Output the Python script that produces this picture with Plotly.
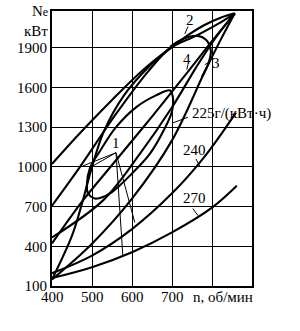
import plotly.graph_objects as go

# axis ticks
x_ticks = [400, 500, 600, 700]
y_ticks = [100, 400, 700, 1000, 1300, 1600, 1900]

# curve "2" (external characteristic)
c2_n = [400, 450, 500, 550, 600, 650, 700, 740, 780, 820, 857]
c2_ne = [1022, 1190, 1350, 1505, 1655, 1790, 1905, 1995, 2070, 2125, 2160]
# second boundary line
cb_n = [400, 470, 560, 640, 695, 760, 815, 857]
cb_ne = [707, 1000, 1400, 1720, 1895, 1990, 2080, 2160]
# propeller curve (steep)
p1_n = [400, 450, 477, 500, 530, 580, 640, 695]
p1_ne = [150, 480, 745, 1000, 1270, 1540, 1750, 1900]
# curve "4"
c4_n = [400, 527, 620, 700, 760, 810, 857]
c4_ne = [467, 745, 1100, 1450, 1750, 1980, 2160]
# partial line from 422
cd_n = [400, 477, 560, 650, 740, 800, 857]
cd_ne = [422, 745, 1050, 1380, 1720, 1950, 2160]
# curve "3"
c3_n = [400, 500, 600, 700, 782, 820, 857]
c3_ne = [150, 420, 760, 1200, 1720, 1950, 2160]
# 225 g/(kWh) island
s225_n = [505, 490, 487, 495, 520, 560, 610, 660, 695, 702, 700, 680, 645, 600, 550, 520, 505]
s225_ne = [762, 800, 857, 992, 1120, 1300, 1450, 1540, 1577, 1530, 1420, 1280, 1100, 950, 810, 765, 762]
# outer loop
big_n = [695, 730, 762, 785, 797, 792, 775]
big_ne = [1907, 1970, 1990, 1960, 1880, 1790, 1680]
# 240 and 270 g/(kWh)
c240_n = [400, 500, 600, 700, 782, 860]
c240_ne = [197, 330, 530, 800, 1080, 1410]
c270_n = [400, 500, 600, 700, 800, 862]
c270_ne = [160, 242, 355, 505, 692, 857]

# leader lines (n, Ne pairs)
lead_1 = [[(560, 1107), (477, 1007)], [(560, 1107), (502, 1007)],
          [(560, 1107), (577, 332)], [(560, 1107), (607, 580)]]
lead_txt = [[(732, 2005), (740, 2060)], [(737, 1735), (740, 1775)],
            [(782, 1772), (795, 1795)], [(740, 1375), (700, 1330)],
            [(760, 1060), (770, 1000)], [(752, 685), (765, 632)]]

fig = go.Figure()
thick = dict(color="black", width=2.1, shape="spline")
for xs, ys in [(c2_n, c2_ne), (cb_n, cb_ne), (p1_n, p1_ne), (c4_n, c4_ne), (cd_n, cd_ne),
               (c3_n, c3_ne), (s225_n, s225_ne), (big_n, big_ne),
               (c240_n, c240_ne), (c270_n, c270_ne)]:
    fig.add_trace(go.Scatter(x=xs, y=ys, mode="lines", line=thick,
                             hoverinfo="skip", showlegend=False))
for seg in lead_1 + lead_txt:
    fig.add_trace(go.Scatter(x=[p[0] for p in seg], y=[p[1] for p in seg], mode="lines",
                             line=dict(color="black", width=1), hoverinfo="skip",
                             showlegend=False))

font = dict(family="Liberation Serif", size=15, color="black")
labels = [("2", 745, 2110), ("4", 737, 1817), ("3", 810, 1787),
          ("225г/(кВт·ч)", 848, 1400), ("240", 755, 1128), ("270", 755, 765),
          ("1", 560, 1180)]
for t, x, y in labels:
    fig.add_annotation(x=x, y=y, text=t, showarrow=False, font=font,
                       xanchor="center", yanchor="middle")
for v in x_ticks:
    fig.add_annotation(x=v, yref="paper", y=-0.004, text=str(v), showarrow=False,
                       font=font, xanchor="center", yanchor="top")
fig.add_annotation(xref="paper", yref="paper", x=0.695, y=-0.004, text="n, об/мин",
                   showarrow=False, font=font, xanchor="left", yanchor="top")
fig.add_annotation(xref="paper", yref="paper", x=-0.01, y=1.035,
                   text="N<span style='font-size:12px'>e</span>",
                   showarrow=False, font=font, xanchor="right", yanchor="top")
fig.add_annotation(xref="paper", yref="paper", x=-0.01, y=0.962, text="кВт",
                   showarrow=False, font=font, xanchor="right", yanchor="top")

fig.update_xaxes(range=[400, 900], tickvals=[400, 500, 600, 700, 800], showticklabels=False,
                 showgrid=True, gridcolor="black", gridwidth=1.3,
                 showline=True, linecolor="black", linewidth=2,
                 mirror=True, ticks="", zeroline=False)
fig.update_yaxes(range=[100, 2177.5], tickvals=y_ticks, ticktext=[str(v) for v in y_ticks],
                 showgrid=True, gridcolor="black", gridwidth=1.3,
                 showline=True, linecolor="black", linewidth=2, mirror=True,
                 ticks="", tickfont=font, zeroline=False)
fig.update_layout(width=300, height=331, margin=dict(l=52, r=48, t=9, b=45),
                  plot_bgcolor="white", paper_bgcolor="white")
fig.write_html("out.html")
